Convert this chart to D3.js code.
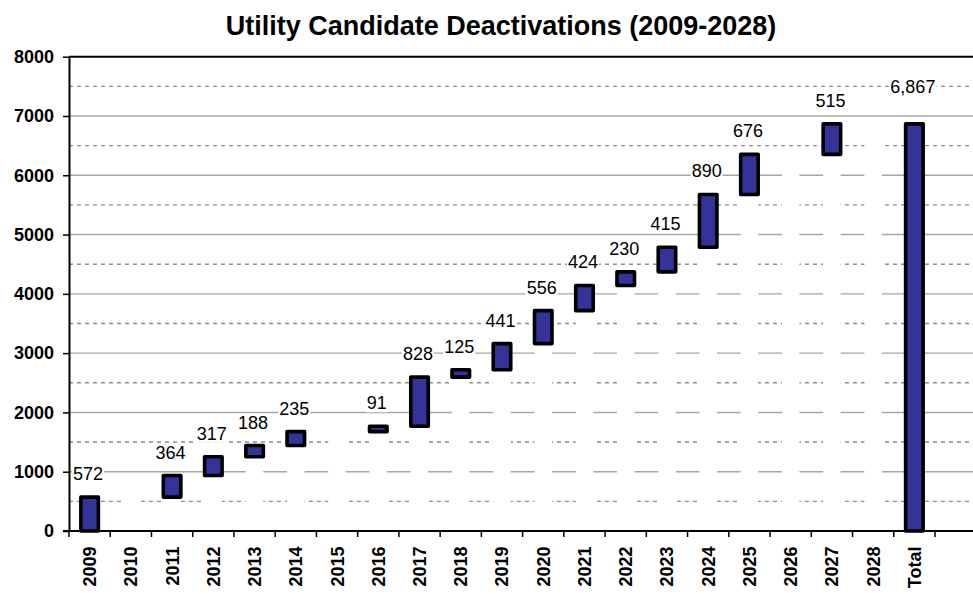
<!DOCTYPE html>
<html>
<head>
<meta charset="utf-8">
<script src="https://cdn.jsdelivr.net/npm/d3@7/dist/d3.min.js"></script>
<style>
  html, body { margin: 0; padding: 0; background: #fff; }
  svg { display: block; }
</style>
</head>
<body>
<svg id="chart" width="973" height="594"></svg>
<script>
// ---- data ----
const titleText = "Utility Candidate Deactivations (2009-2028)";
const categories = ["2009","2010","2011","2012","2013","2014","2015","2016","2017","2018",
                    "2019","2020","2021","2022","2023","2024","2025","2026","2027","2028","Total"];
const increments = [572, 0, 364, 317, 188, 235, 0, 91, 828, 125,
                    441, 556, 424, 230, 415, 890, 676, 0, 515, 0];
const totalValue = 6867;
const majorTicks = [0, 1000, 2000, 3000, 4000, 5000, 6000, 7000, 8000];
const minorTicks = [500, 1500, 2500, 3500, 4500, 5500, 6500, 7500];

// build waterfall table
let running = 0;
const rows = categories.map((c, i) => {
  if (c === "Total") return { cat: c, start: 0, end: totalValue, value: totalValue, total: true };
  const s = running;
  running += increments[i];
  return { cat: c, start: s, end: running, value: increments[i], total: false };
});

// ---- layout ----
const svg = d3.select("#chart");
const plotLeft = 69, plotTop = 56.7, plotBottom = 531, gridRight = 976;
const x = d3.scaleBand().domain(categories).range([plotLeft, 935]).paddingInner(0).paddingOuter(0);
const y = d3.scaleLinear().domain([0, 8000]).range([plotBottom, plotTop]);
const barW = 17.5;
const font = "'Liberation Sans', Arial, Helvetica, sans-serif";

// title
svg.append("text")
  .attr("x", 501).attr("y", 35)
  .attr("text-anchor", "middle")
  .attr("font-family", font).attr("font-weight", "bold").attr("font-size", 27)
  .text(titleText);

// gridlines
svg.append("g").selectAll("line").data(majorTicks.filter(d => d > 0 && d < 8000)).join("line")
  .attr("x1", plotLeft).attr("x2", gridRight)
  .attr("y1", d => y(d)).attr("y2", d => y(d))
  .attr("stroke", "#a6a6a6").attr("stroke-width", 1.4);
svg.append("g").selectAll("line").data(minorTicks).join("line")
  .attr("x1", plotLeft).attr("x2", gridRight)
  .attr("y1", d => y(d)).attr("y2", d => y(d))
  .attr("stroke", "#8c8c8c").attr("stroke-width", 1.4)
  .attr("stroke-dasharray", "4,4");
// top line
svg.append("line").attr("x1", plotLeft).attr("x2", gridRight)
  .attr("y1", y(8000)).attr("y2", y(8000))
  .attr("stroke", "#000").attr("stroke-width", 2);

// invisible (white) base bars
svg.append("g").selectAll("rect").data(rows.filter(r => r.start > 0)).join("rect")
  .attr("x", r => x(r.cat) + x.bandwidth() / 2 - barW / 2)
  .attr("width", barW)
  .attr("y", r => y(r.start))
  .attr("height", r => y(0) - y(r.start))
  .attr("fill", "#fff");

// visible bars
svg.append("g").selectAll("rect").data(rows.filter(r => r.value > 0)).join("rect")
  .attr("x", r => x(r.cat) + x.bandwidth() / 2 - barW / 2)
  .attr("width", barW)
  .attr("y", r => y(r.end))
  .attr("height", r => y(r.start) - y(r.end))
  .attr("fill", "#333399")
  .attr("stroke", "#000").attr("stroke-width", 3.6)
  .attr("stroke-linejoin", "round");

// y axis
const yAxis = svg.append("g").attr("transform", `translate(${plotLeft},0)`)
  .call(d3.axisLeft(y).tickValues(majorTicks).tickSize(6).tickSizeOuter(0).tickPadding(9)
        .tickFormat(d3.format("d")));
yAxis.select(".domain").attr("stroke", "#000").attr("stroke-width", 2);
yAxis.selectAll(".tick line").attr("stroke", "#000").attr("stroke-width", 1.5);
yAxis.selectAll(".tick text").attr("font-family", font).attr("font-weight", "bold")
  .attr("font-size", 18).attr("fill", "#000");

// x axis
const xAxis = svg.append("g").attr("transform", `translate(0,${plotBottom})`)
  .call(d3.axisBottom(x).tickSize(0).tickSizeOuter(0));
xAxis.select(".domain").remove();
xAxis.selectAll(".tick text")
  .attr("transform", "rotate(-90)")
  .attr("x", -15.5).attr("y", 0).attr("dy", "0.36em")
  .attr("text-anchor", "end")
  .attr("font-family", font).attr("font-weight", "bold")
  .attr("font-size", 18).attr("fill", "#000");
xAxis.append("line").attr("x1", plotLeft - 6).attr("x2", gridRight).attr("y1", 0).attr("y2", 0)
  .attr("stroke", "#000").attr("stroke-width", 2);
const boundaries = categories.map(c => x(c)).concat([x.range()[1]]);
xAxis.append("g").selectAll("line").data(boundaries).join("line")
  .attr("x1", d => d).attr("x2", d => d).attr("y1", 0).attr("y2", 6)
  .attr("stroke", "#000").attr("stroke-width", 1.5);

// data labels with white background
const fmt = d3.format(",");
const lblG = svg.append("g");
rows.filter(r => r.value > 0).forEach(r => {
  const cx = x(r.cat) + x.bandwidth() / 2 - 1.5;
  const by = y(r.end) - (r.total ? 31 : 17);
  const g = lblG.append("g");
  const bg = g.append("rect").attr("fill", "#fff");
  const t = g.append("text")
    .attr("x", cx).attr("y", by)
    .attr("text-anchor", "middle")
    .attr("font-family", font).attr("font-size", 18).attr("fill", "#000")
    .text(fmt(r.value));
  const bb = t.node().getBBox();
  bg.attr("x", bb.x - 1).attr("y", bb.y + 2).attr("width", bb.width + 2).attr("height", bb.height - 3);
});
</script>
</body>
</html>
